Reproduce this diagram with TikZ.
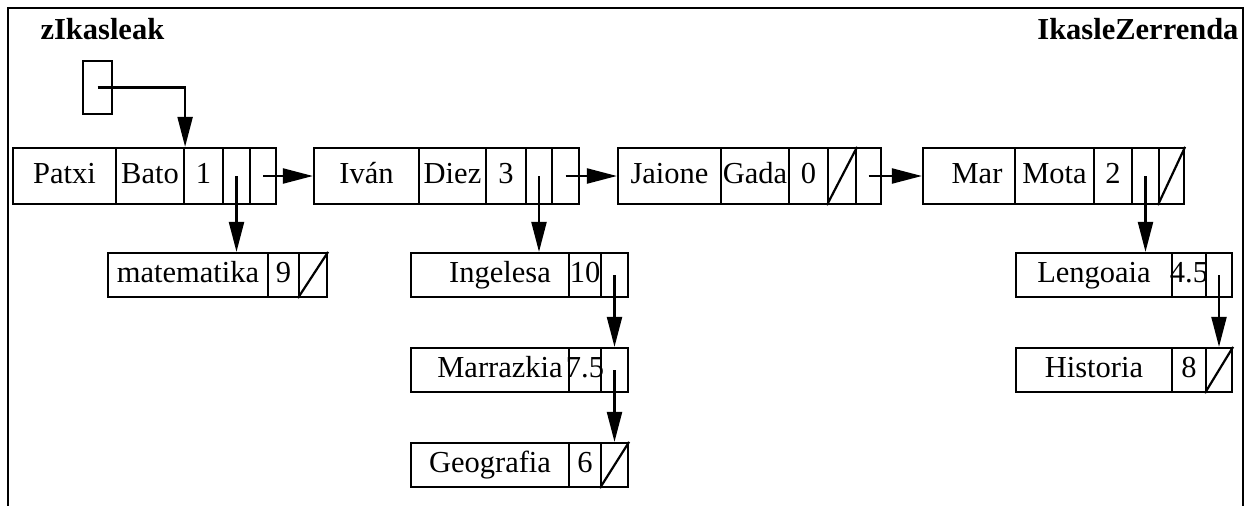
\documentclass[tikz,border=0pt]{standalone}
\usepackage{fontspec}
\setmainfont{Liberation Serif}
\usetikzlibrary{arrows.meta}

\begin{document}
\begin{tikzpicture}[x=1pt,y=-1pt,
  every node/.style={font=\fontsize{30.5}{32}\selectfont},
  cell/.style={draw, line width=2.2pt, inner sep=0pt, text height=21pt, text depth=7pt, minimum height=56pt},
  sub/.style={cell, minimum height=44pt},
  ptr/.style={line width=2.2pt, -{Triangle[length=30pt,width=15pt]}}]
\useasboundingbox (0,0) rectangle (1253,506);
% frame, open at the bottom
\draw[line width=2.6pt] (8,506) -- (8,8) -- (1243,8) -- (1243,506);

\node[anchor=base west, font=\fontsize{30.5}{32}\bfseries] (ztitle) at (37,39) {zIkasleak};
\node[anchor=base east, font=\fontsize{30.5}{32}\bfseries] (ltitle) at (1242,39) {IkasleZerrenda};
\node[draw, line width=2.2pt, inner sep=0pt, minimum width=29pt, minimum height=53pt] (zptr) at (97.5,87.5) {};

% students
\node[cell, minimum width=103pt] (patxi) at (64.5,176) {Patxi};
\node[cell, minimum width=68pt] (bato) at (150,176) {Bato};
\node[cell, minimum width=39pt] (patxin) at (203.5,176) {1};
\node[cell, minimum width=27pt] (patxiikas) at (236.5,176) {};
\node[cell, minimum width=26pt] (patxihur) at (263,176) {};

\node[cell, minimum width=105pt] (ivan) at (366.5,176) {Iván};
\node[cell, minimum width=67pt] (diez) at (452.5,176) {Diez};
\node[cell, minimum width=40pt] (ivann) at (506,176) {3};
\node[cell, minimum width=26pt] (ivanikas) at (539,176) {};
\node[cell, minimum width=27pt] (ivanhur) at (565.5,176) {};

\node[cell, minimum width=103pt] (jaione) at (669.5,176) {Jaione};
\node[cell, minimum width=68pt] (gada) at (755,176) {Gada};
\node[cell, minimum width=39pt] (jaionen) at (808.5,176) {0};
\node[cell, minimum width=28pt] (jaioneikas) at (842,176) {};
\node[cell, minimum width=25pt] (jaionehur) at (868.5,176) {};

\node[cell, minimum width=92pt] (mar) at (969,176) {\hspace*{16pt}Mar};
\node[cell, minimum width=79pt] (mota) at (1054.5,176) {Mota};
\node[cell, minimum width=38pt] (marn) at (1113,176) {2};
\node[cell, minimum width=27pt] (marikas) at (1145.5,176) {};
\node[cell, minimum width=25pt] (marhur) at (1171.5,176) {};

% subjects
\node[sub, minimum width=160pt] (mate) at (188,275) {matematika};
\node[sub, minimum width=31pt] (matenota) at (283.5,275) {9};
\node[sub, minimum width=28pt] (matehur) at (313,275) {};

\node[sub, minimum width=158pt] (ingel) at (490,275) {\hspace*{20pt}Ingelesa};
\node[sub, minimum width=32pt] (ingelnota) at (585,275) {10};
\node[sub, minimum width=27pt] (ingelhur) at (614.5,275) {};

\node[sub, minimum width=158pt] (marr) at (490,370) {\hspace*{20pt}Marrazkia};
\node[sub, minimum width=32pt] (marrnota) at (585,370) {\makebox[0pt]{7.5}};
\node[sub, minimum width=27pt] (marrhur) at (614.5,370) {};

\node[sub, minimum width=158pt] (geo) at (490,465) {Geografia};
\node[sub, minimum width=32pt] (geonota) at (585,465) {6};
\node[sub, minimum width=27pt] (geohur) at (614.5,465) {};

\node[sub, minimum width=156pt] (leng) at (1094,275) {Lengoaia};
\node[sub, minimum width=34pt] (lengnota) at (1189,275) {\makebox[0pt]{4.5}};
\node[sub, minimum width=26pt] (lenghur) at (1219,275) {};

\node[sub, minimum width=156pt] (hist) at (1094,370) {Historia};
\node[sub, minimum width=34pt] (histnota) at (1189,370) {8};
\node[sub, minimum width=26pt] (histhur) at (1219,370) {};

% null pointers
\foreach \n in {jaioneikas, marhur, matehur, geohur, histhur}
  \draw[line width=2.2pt] (\n.south west) -- (\n.north east);

% pointers
\draw[ptr] (zptr.center) -| (bato.north east);
\draw[ptr] (patxihur.center) -- (ivan.west);
\draw[ptr] (ivanhur.center) -- (jaione.west);
\draw[ptr] (jaionehur.center) -- (mar.west);
\draw[ptr] (patxiikas.center) -- (patxiikas.center |- mate.north);
\draw[ptr] (ivanikas.center) -- (ivanikas.center |- ingel.north);
\draw[ptr] (ingelhur.center) -- (ingelhur.center |- marr.north);
\draw[ptr] (marrhur.center) -- (marrhur.center |- geo.north);
\draw[ptr] (marikas.center) -- (marikas.center |- leng.north);
\draw[ptr] (lenghur.center) -- (lenghur.center |- hist.north);
\end{tikzpicture}
\end{document}
